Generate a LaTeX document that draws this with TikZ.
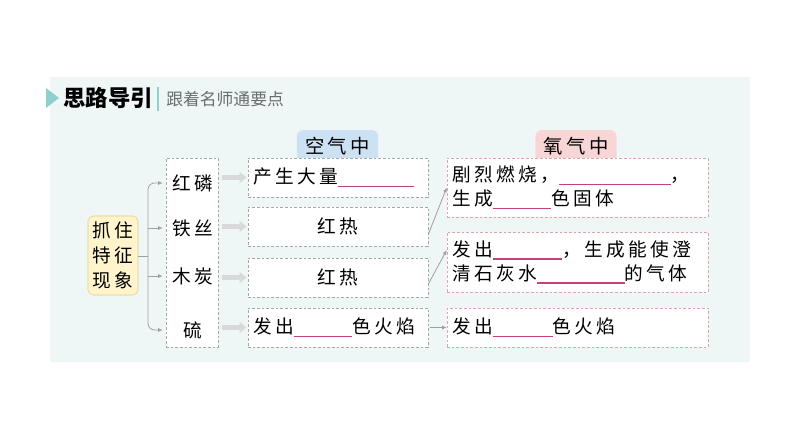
\documentclass[tikz,border=0pt]{standalone}
\usepackage{fontspec}
\newfontfamily\cjk[LetterSpace=18]{Noto Sans CJK SC}
\newfontfamily\cjktitle{Noto Sans CJK SC}
\usetikzlibrary{calc,positioning,arrows.meta}
\definecolor{panel}{HTML}{EEF6F6}
\definecolor{teal}{HTML}{8FD0CE}
\definecolor{tagblue}{HTML}{CCE2F4}
\definecolor{tagpink}{HTML}{F9D6D6}
\definecolor{boxgray}{HTML}{A6A6A6}
\definecolor{boxpink}{HTML}{DDA3AB}
\definecolor{keyfill}{HTML}{FFF4CC}
\definecolor{keyline}{HTML}{EDC877}
\definecolor{blankline}{HTML}{C2427C}
\newcommand{\blank}[1]{\textcolor{blankline}{\rule[-2.5pt]{#1}{0.9pt}}}
\begin{document}
\begin{tikzpicture}[x=0.75pt,y=-0.75pt,
  font=\cjk\fontsize{14}{18}\selectfont,
  gbox/.style={draw=boxgray, dash pattern=on 2pt off 1.5pt, fill=white, inner xsep=3.75pt, inner ysep=0pt},
  pbox/.style={draw=boxpink, dash pattern=on 2pt off 1.5pt, fill=white, inner xsep=3.75pt, inner ysep=0pt},
  tag/.style={rounded corners=5pt, inner sep=0pt, minimum width=61pt, minimum height=22.5pt, font=\cjk\fontsize{14.5}{18}\selectfont},
  thin/.style={draw=gray!75, line width=0.6pt, -{Latex[length=3.5pt,width=3pt]}},
  fat/.style={draw=gray!30, line width=3.5pt, -{Triangle[length=5pt,width=8pt]}, shorten >=1pt}]
\useasboundingbox (0,0) rectangle (794,447);
\fill[panel] (50,77) rectangle (750,362);
\fill[teal] (46,88) -- (59,98) -- (46,108) -- cycle;
\node[anchor=west, inner sep=0pt, font=\cjktitle\bfseries\fontsize{16.8}{18}\selectfont] (title) at (63,98) {思路导引};
\draw[teal, line width=1pt] (158,87) -- (158,111);
\node[anchor=west, inner sep=0pt, text=gray!85!black, font=\cjktitle\fontsize{12.6}{15}\selectfont] (sub) at (166,99) {跟着名师通要点};

\node[tag, fill=tagblue, minimum height=24pt] (kq) at (337.5,146) {空气中};
\node[tag, fill=tagpink, minimum height=24pt] (yq) at (576,146) {氧气中};

\node[draw=keyline, fill=keyfill, rounded corners=4pt, minimum width=37.5pt, minimum height=59.25pt, inner sep=0pt, align=center, font=\cjk\fontsize{14}{18.75}\selectfont] (key) at (113,255.5) {抓住\\特征\\现象};

\node[gbox, minimum width=39pt, minimum height=141.75pt] (wz) at (192,252.5) {};
\node[minimum width=45pt, inner sep=0pt] (hl) at (193,183) {红磷};
\node[minimum width=45pt, inner sep=0pt] (ts) at (193,228) {铁丝};
\node[minimum width=45pt, inner sep=0pt] (mt) at (193,276) {木炭};
\node[minimum width=45pt, inner sep=0pt] (ls) at (193,330) {硫};

\coordinate (fork) at (148,256);
\draw[draw=gray!75, line width=0.6pt] (key.east |- fork) -- (fork);
\draw[thin, rounded corners=5pt] (fork) |- (hl.west);
\draw[thin] (fork |- ts.west) -- (ts.west);
\draw[thin] (fork |- mt.west) -- (mt.west);
\draw[thin, rounded corners=5pt] (fork) |- (ls.west);

\node[gbox, minimum width=135pt, minimum height=29.25pt, text width=127.5pt, align=left] (kq1) at (338,177.5) {产生大量\blank{57pt}};
\node[gbox, minimum width=135pt, minimum height=29.25pt, text width=127.5pt, align=center] (kq2) at (338,226.5) {红热};
\node[gbox, minimum width=135pt, minimum height=29.25pt, text width=127.5pt, align=center] (kq3) at (338,277.5) {红热};
\node[gbox, minimum width=135pt, minimum height=29.25pt, text width=127.5pt, align=left] (kq4) at (338,327.5) {发出\blank{44pt}色火焰};

\draw[fat] ([xshift=3pt]wz.east |- kq1.west) -- (kq1.west);
\draw[fat] ([xshift=3pt]wz.east |- kq2.west) -- (kq2.west);
\draw[fat] ([xshift=3pt]wz.east |- kq3.west) -- (kq3.west);
\draw[fat] ([xshift=3pt]wz.east |- kq4.west) -- (kq4.west);

\node[pbox, minimum width=195.75pt, minimum height=44.25pt, text width=188.25pt, align=left] (yq1) at (577.5,187.5) {剧烈燃烧，\blank{84pt}，\\生成\blank{44pt}色固体};
\node[pbox, minimum width=195.75pt, minimum height=45pt, text width=188.25pt, align=left] (yq2) at (577.5,262) {发出\blank{52pt}，生成能使澄\\清石灰水\blank{66pt}的气体};
\node[pbox, minimum width=195.75pt, minimum height=29.25pt, text width=188.25pt, align=left] (yq3) at (577.5,327.5) {发出\blank{45pt}色火焰};

\draw[thin] ([yshift=-6pt]kq2.east) -- (yq1.west);
\draw[thin] ([yshift=-5pt]kq3.east) -- ([yshift=9pt]yq2.west);
\draw[thin] ([xshift=1pt]kq4.east) -- (yq3.west);
\end{tikzpicture}
\end{document}
